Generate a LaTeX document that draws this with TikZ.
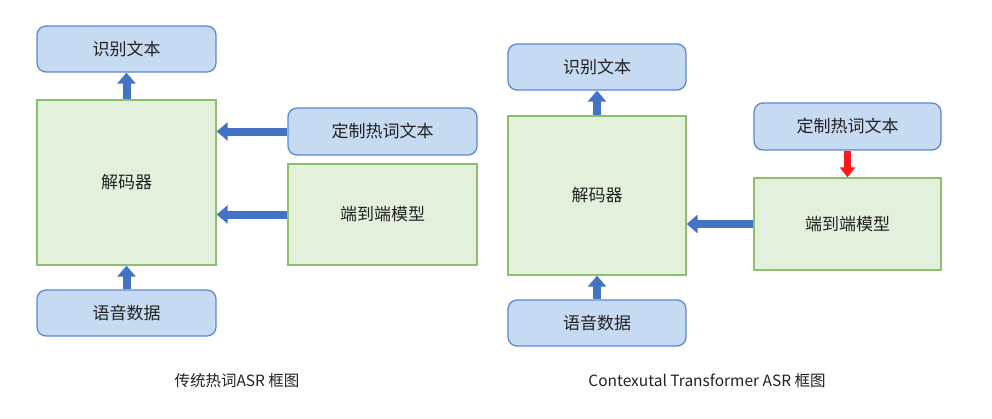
\documentclass[tikz,border=0pt]{standalone}
\usepackage{fontspec}
\setmainfont{Noto Sans CJK SC}
\usetikzlibrary{arrows.meta}
\definecolor{bfill}{HTML}{C6DAF1}
\definecolor{bdraw}{HTML}{5A8AD2}
\definecolor{gfill}{HTML}{E3F0DB}
\definecolor{gdraw}{HTML}{8EC06C}
\definecolor{arblue}{HTML}{4472C4}
\definecolor{arred}{HTML}{FF1A1A}
\definecolor{txt}{HTML}{222222}
\tikzset{
  bluebox/.style={draw=bdraw, fill=bfill, line width=1.3pt, rounded corners=9pt, text=txt, font=\fontsize{17}{20}\selectfont},
  greenbox/.style={draw=gdraw, fill=gfill, line width=1.3pt, text=txt, font=\fontsize{17}{20}\selectfont},
  bigarrow/.style={draw=arblue, line width=8pt, -{Triangle[width=18pt,length=11pt]}},
  redarrow/.style={draw=arred, line width=7pt, -{Triangle[width=15pt,length=10pt]}},
  caption/.style={text=txt, font=\fontsize{15.5}{18}\selectfont}
}
\begin{document}
\begin{tikzpicture}[x=1pt,y=-1pt]
\useasboundingbox[fill=white] (0,0) rectangle (992,418);
% left diagram
\node[bluebox, minimum width=179pt, minimum height=46pt] (outL) at (126.5,49) {识别文本};
\node[greenbox, minimum width=179pt, minimum height=165pt] (decL) at (126.5,182.5) {解码器};
\node[bluebox, minimum width=189pt, minimum height=47pt] (hotL) at (382.5,131.5) {定制热词文本};
\node[greenbox, minimum width=189pt, minimum height=101pt] (e2eL) at (382.5,214.5) {端到端模型};
\node[bluebox, minimum width=179pt, minimum height=46pt] (inL) at (126.5,313) {语音数据};
\draw[bigarrow] (decL.north) -- (outL.south);
\draw[bigarrow] (hotL.west) -- (hotL.west -| decL.east);
\draw[bigarrow] (e2eL.west) -- (e2eL.west -| decL.east);
\draw[bigarrow] (inL.north) -- (decL.south);
\node[caption] (capL) at (237,381) {传统热词ASR 框图};
% right diagram
\node[bluebox, minimum width=178pt, minimum height=46pt] (outR) at (597,67) {识别文本};
\node[greenbox, minimum width=178pt, minimum height=159pt] (decR) at (597,195.5) {解码器};
\node[bluebox, minimum width=187pt, minimum height=47pt] (hotR) at (847.5,126.5) {定制热词文本};
\node[greenbox, minimum width=187pt, minimum height=92pt] (e2eR) at (847.5,224) {端到端模型};
\node[bluebox, minimum width=178pt, minimum height=46pt] (inR) at (597,323) {语音数据};
\draw[bigarrow] (decR.north) -- (outR.south);
\draw[redarrow] (hotR.south) -- (e2eR.north);
\draw[bigarrow] (e2eR.west) -- (e2eR.west -| decR.east);
\draw[bigarrow] (inR.north) -- (decR.south);
\node[caption] (capR) at (707,381) {Contexutal Transformer ASR 框图};
\end{tikzpicture}
\end{document}
